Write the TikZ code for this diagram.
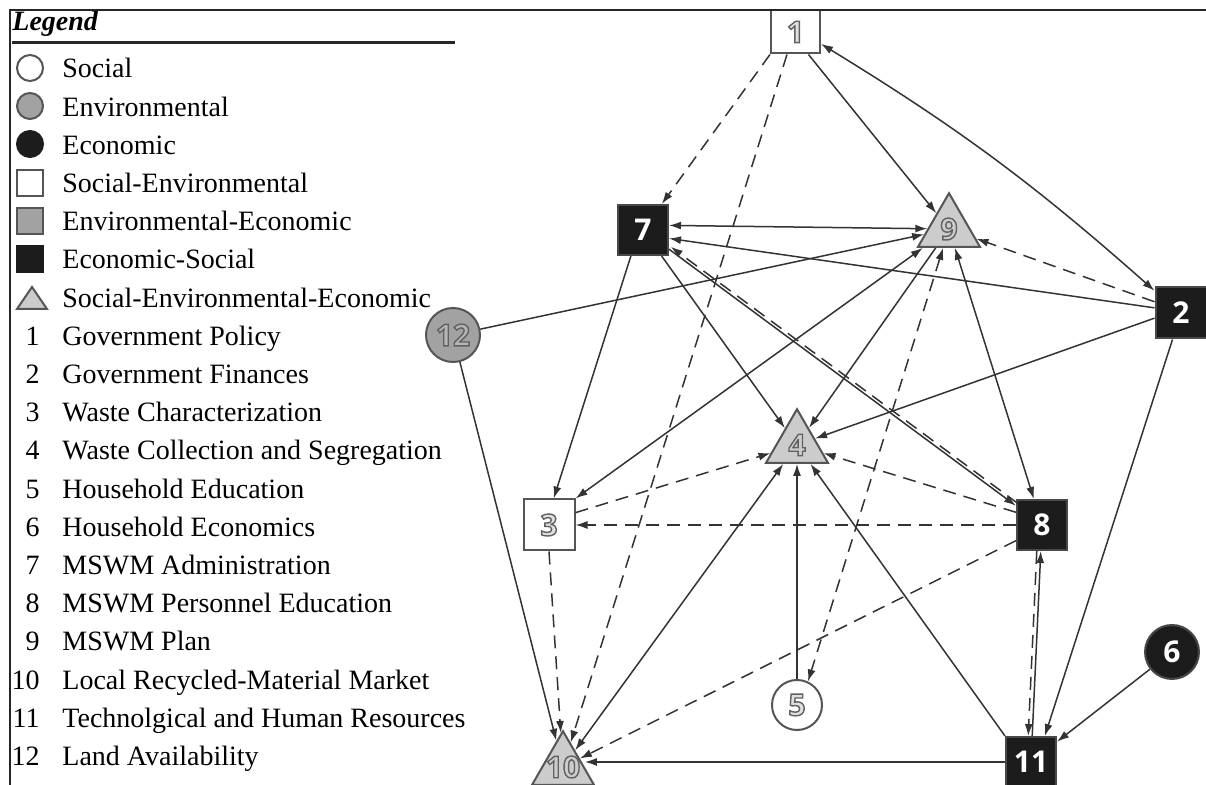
\documentclass[tikz,border=0pt]{standalone}
\usepackage{fontspec}
\setmainfont{Liberation Serif}
\newfontfamily\numfont{Open Sans}
\usetikzlibrary{arrows.meta,shapes.geometric}
\definecolor{edgec}{HTML}{333333}
\definecolor{bordc}{HTML}{555555}
\definecolor{trifill}{HTML}{CCCCCC}
\definecolor{envfill}{HTML}{A2A2A2}
\definecolor{blk}{HTML}{1C1C1C}
\newcommand\outdig[2]{{\color{#1}\special{pdf:literal direct 2 Tr 0.7 w 0.38 G}#2\special{pdf:literal direct 0 Tr}}}
\begin{document}
\begin{tikzpicture}[x=0.5pt,y=-0.5pt,
  lg/.style={anchor=base west, inner sep=0pt, font=\fontsize{14}{16}\selectfont},
  lnum/.style={anchor=base east, inner sep=0pt, font=\fontsize{14}{16}\selectfont},
  nbase/.style={line width=1pt, draw=bordc, inner sep=0pt, font=\numfont\bfseries\fontsize{15}{15}\selectfont},
  wsq/.style={nbase, rectangle, fill=white, minimum size=25.5pt},
  bsq/.style={nbase, rectangle, fill=blk, draw=blk!80!white, text=white, minimum size=25pt},
  tri/.style={nbase, regular polygon, regular polygon sides=3, fill=trifill, minimum size=35.8pt},
  wcirc/.style={nbase, circle, fill=white, minimum size=25pt},
  gcirc/.style={nbase, circle, fill=envfill, minimum size=27pt},
  bcirc/.style={nbase, circle, fill=blk, draw=blk!80!white, text=white, minimum size=27pt},
  dig/.style={inner sep=0pt, font=\numfont\bfseries\fontsize{15}{15}\selectfont},
  conn/.style={draw=edgec, line width=0.75pt, -{Latex[length=6pt,width=4pt]}},
  biconn/.style={draw=edgec, line width=0.75pt, {Latex[length=6pt,width=4pt]}-{Latex[length=6pt,width=4pt]}},
  dconn/.style={conn, dash pattern=on 6.5pt off 4pt},
  dbiconn/.style={biconn, dash pattern=on 6.5pt off 4pt},
  legsym/.style={line width=1pt, draw=bordc}
]
\useasboundingbox (0,0) rectangle (1206,785);

% ---------- legend ----------
\node[anchor=base west, inner sep=0pt, font=\bfseries\itshape\fontsize{14}{16}\selectfont] (legtitle) at (12,31) {Legend};
\draw[line width=1.4pt, black!85] (12,42.5) -- (455,42.5);

\draw[legsym, fill=white] (30,68) circle[radius=13];
\draw[legsym, fill=envfill] (30,106) circle[radius=13];
\draw[legsym, fill=blk, draw=blk] (30,144) circle[radius=13];
\draw[legsym, fill=white] (17,170) rectangle (43,196);
\draw[legsym, fill=envfill] (17,208) rectangle (43,234);
\draw[legsym, fill=blk, draw=blk] (17,246) rectangle (43,272);
\draw[legsym, fill=trifill] (32,287) -- (47,309) -- (17,309) -- cycle;

\node[lg] (l1) at (62,78) {Social};
\node[lg] (l2) at (62,116.2) {Environmental};
\node[lg] (l3) at (62,154.4) {Economic};
\node[lg] (l4) at (62,192.6) {Social-Environmental};
\node[lg] (l5) at (62,230.8) {Environmental-Economic};
\node[lg] (l6) at (62,269) {Economic-Social};
\node[lg] (l7) at (62,307.2) {Social-Environmental-Economic};

\node[lnum] (k1) at (40,345.4) {1};   \node[lg] (t1) at (62,345.4) {Government Policy};
\node[lnum] (k2) at (40,383.6) {2};   \node[lg] (t2) at (62,383.6) {Government Finances};
\node[lnum] (k3) at (40,421.8) {3};   \node[lg] (t3) at (62,421.8) {Waste Characterization};
\node[lnum] (k4) at (40,460) {4};     \node[lg] (t4) at (62,460) {Waste Collection and Segregation};
\node[lnum] (k5) at (40,498.2) {5};   \node[lg] (t5) at (62,498.2) {Household Education};
\node[lnum] (k6) at (40,536.4) {6};   \node[lg] (t6) at (62,536.4) {Household Economics};
\node[lnum] (k7) at (40,574.6) {7};   \node[lg] (t7) at (62,574.6) {MSWM Administration};
\node[lnum] (k8) at (40,612.8) {8};   \node[lg] (t8) at (62,612.8) {MSWM Personnel Education};
\node[lnum] (k9) at (40,651) {9};     \node[lg] (t9) at (62,651) {MSWM Plan};
\node[lnum] (k10) at (40,689.2) {10}; \node[lg] (t10) at (62,689.2) {Local Recycled-Material Market};
\node[lnum] (k11) at (40,727.4) {11}; \node[lg] (t11) at (62,727.4) {Technolgical and Human Resources};
\node[lnum] (k12) at (40,765.6) {12}; \node[lg] (t12) at (62,765.6) {Land Availability};

% ---------- nodes ----------
\node[wsq, minimum width=24.5pt, minimum height=21.5pt] (n1) at (795.5,32) {\outdig{white!88!black}{1}};
\node[bsq, minimum size=25.5pt] (n2) at (1181,313) {2};
\node[wsq] (n3) at (549,525) {\outdig{white!88!black}{3}};
\node[tri, label={[dig]center:\outdig{trifill}{4}}] (n4) at (797,445) {};
\node[wcirc] (n5) at (797,705) {\outdig{white!88!black}{5}};
\node[bcirc] (n6) at (1172,652) {6};
\node[bsq] (n7) at (643,230) {7};
\node[bsq] (n8) at (1042,525) {8};
\node[tri, label={[dig]center:\outdig{trifill}{9}}] (n9) at (949,229) {};
\node[tri, label={[dig]center:\outdig{trifill}{10}}] (n10) at (563,767) {};
\node[bsq] (n11) at (1031,762) {11};
\node[gcirc] (n12) at (453,335) {\outdig{envfill!80!white}{12}};

% ---------- connectors ----------
\draw[dconn] (n1.south west) -- (n7);
\draw[dconn] ([xshift=-4.25pt]n1.south) -- (n10);
\draw[conn] (n1.-60) -- (n9);
\draw[biconn] (n1.-25) to[bend left=5] (n2.140);
\draw[biconn] (n7.10) -- (n9);
\draw[conn] (n2.169) -- (n7.-18);
\draw[conn] (n12) -- (n9);
\draw[conn] (n7.-115) -- (n3.80);
\draw[conn] (n7) -- (n4);
\draw[conn] (n7) -- (n8);
\draw[dconn, transform canvas={xshift=0.9pt,yshift=1.2pt}] (n8) -- (n7);
\draw[conn] (n9) -- (n4);
\draw[biconn] (n3.north east) -- (n9);
\draw[biconn] (n9) -- (n8);
\draw[dconn] (n2.157) -- (n9);
\draw[dbiconn] (n9) -- (n5.65);
\draw[conn] (n2.191) -- (n4);
\draw[conn] (n2) -- (n11.62);
\draw[conn] (n6) -- (n11);
\draw[conn] (n11.west) -- (n10.east |- n11.west);
\draw[conn] (n11.north west) -- (n4);
\draw[conn] (n5) -- (n4);
\draw[conn] (n11) -- (n8);
\draw[dconn, transform canvas={xshift=-2pt}] (n8) -- (n11);
\draw[dconn] (n8.154) -- (n4);
\draw[dconn] (n8) -- (n3);
\draw[dconn] (n8.211) -- (n10);
\draw[dconn] (n3.25) -- (n4);
\draw[dconn] (n3.south) -- (n10);
\draw[conn] (n12) -- (n10);
\draw[biconn] (n10) -- (n4);

% ---------- frame ----------
\draw[line width=1pt, black!85] (10,785) -- (10,10.5) -- (1206,10.5);
\end{tikzpicture}
\end{document}
